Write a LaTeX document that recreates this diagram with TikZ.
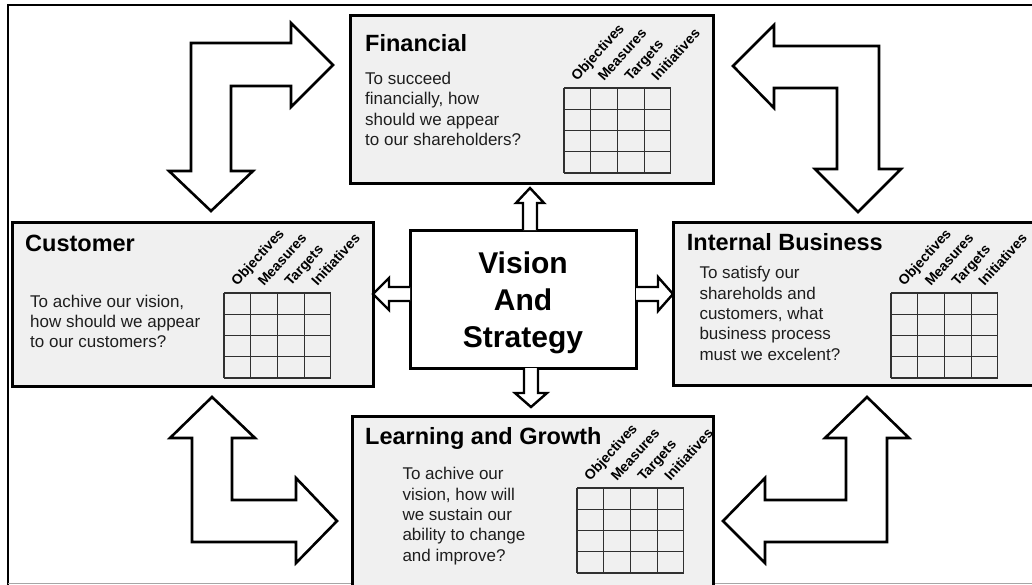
\documentclass[tikz,border=0pt]{standalone}
\usepackage{fontspec}
\setmainfont{Liberation Sans}
\definecolor{panelgray}{HTML}{F0F0F0}
\definecolor{bodytext}{HTML}{1E1E1E}
\definecolor{gridcol}{HTML}{303030}
\newcommand\bscgrid[2]{%
  \foreach \i in {0,...,4} {\draw[gridline] (#1+\i*26.7,#2) -- ++(0,85);}
  \foreach \j in {0,...,4} {\draw[gridline] (#1,#2+\j*21.25) -- ++(106.8,0);}
  \node[collabel] at (#1+13.35,#2-6) {Objectives};
  \node[collabel] at (#1+40.05,#2-6) {Measures};
  \node[collabel] at (#1+66.75,#2-6) {Targets};
  \node[collabel] at (#1+93.45,#2-6) {Initiatives};
}
\begin{document}
\begin{tikzpicture}[x=1pt,y=-1pt,
  panel/.style={draw=black, line width=3pt, fill=panelgray, anchor=north west, inner sep=0pt, outer sep=0pt},
  visionbox/.style={draw=black, line width=3pt, fill=white, anchor=north west, inner sep=0pt, outer sep=0pt},
  gridline/.style={draw=gridcol, line width=1.2pt},
  collabel/.style={rotate=48, anchor=base west, inner sep=0pt, text=black, font=\bfseries\fontsize{14}{14}\selectfont},
  heading/.style={anchor=base west, inner sep=0pt, text=black, font=\bfseries\fontsize{23.5}{24}\selectfont},
  body/.style={anchor=north west, inner sep=0pt, align=left, text=bodytext, font=\fontsize{17}{20.4}\selectfont},
  bigarrow/.style={draw=black, line width=2.6pt, fill=white, line join=miter},
  smallarrow/.style={draw=black, line width=2.4pt, fill=white, line join=miter}]
\clip (0,0) rectangle (1032,584);
\fill[white] (0,0) rectangle (1032,584);
% outer frame
\draw[line width=2pt] (8,590) -- (8,5) -- (1040,5);
\draw[black!35, line width=1pt] (8,583) -- (1040,583);

% panels
\node[panel, minimum width=363pt, minimum height=168pt] (fin) at (350,15) {};
\node[panel, minimum width=361pt, minimum height=164pt] (cus) at (12,222) {};
\node[panel, minimum width=380pt, minimum height=163pt] (int) at (673,222) {};
\node[panel, minimum width=361pt, minimum height=170pt] (lrn) at (352,416) {};
\node[visionbox, minimum width=226pt, minimum height=138pt] (vis) at (410,230) {};

% texts
\node[heading] (finh) at (365,51.7) {Financial};
\node[body] (finb) at (365,71.8) {To succeed\\financially, how\\should we appear\\to our shareholders?};
\node[heading] (cush) at (25,251.7) {Customer};
\node[body] (cusb) at (30,294.5) {To achive our vision,\\how should we appear\\to our customers?};
\node[heading] (inth) at (686.7,250.7) {Internal Business};
\node[body] (intb) at (699.3,266.1) {To satisfy our\\shareholds and\\customers, what\\business process\\must we excelent?};
\node[heading] (lrnh) at (365,444) {Learning and Growth};
\node[body] (lrnb) at (402.3,467.1) {To achive our\\vision, how will\\we sustain our\\ability to change\\and improve?};
\node[anchor=north, inner sep=0pt, align=center, text=black, font=\bfseries\fontsize{30}{37}\selectfont] (vist) at (523,251.2) {Vision\\And\\Strategy};

% grids
\bscgrid{564}{88}
\bscgrid{224}{293}
\bscgrid{891}{293}
\bscgrid{577}{488}

% small arrows from vision box
\draw[smallarrow] (523,230) -- (523,203) -- (516,203) -- (530,188) -- (544,203) -- (537,203) -- (537,230);
\draw[smallarrow] (524,368) -- (524,393) -- (515,393) -- (531,407) -- (547,393) -- (538,393) -- (538,368);
\draw[smallarrow] (410,287) -- (389,287) -- (389,278) -- (373,294) -- (389,310) -- (389,301) -- (410,301);
\draw[smallarrow] (636,287) -- (658,287) -- (658,277) -- (673,294) -- (658,311) -- (658,301) -- (636,301);

% bent arrows
\draw[bigarrow] (191,43) -- (291,43) -- (291,23) -- (333,65) -- (291,107) -- (291,86) -- (231,86) -- (231,171) -- (253,171) -- (211,211) -- (169,171) -- (191,171) -- cycle;
\draw[bigarrow] (733,66) -- (774,25) -- (774,46) -- (879,46) -- (879,169) -- (901,169) -- (858,212) -- (815,169) -- (837,169) -- (837,88) -- (774,88) -- (774,108) -- cycle;
\draw[bigarrow] (212,397) -- (255,438) -- (232,438) -- (232,500) -- (296,500) -- (296,478) -- (337,521) -- (296,563) -- (296,542) -- (192,542) -- (192,438) -- (170,438) -- cycle;
\draw[bigarrow] (867,397) -- (909,438) -- (887,438) -- (887,542) -- (765,542) -- (765,563) -- (723,521) -- (765,478) -- (765,500) -- (846,500) -- (846,438) -- (825,438) -- cycle;
\end{tikzpicture}
\end{document}
